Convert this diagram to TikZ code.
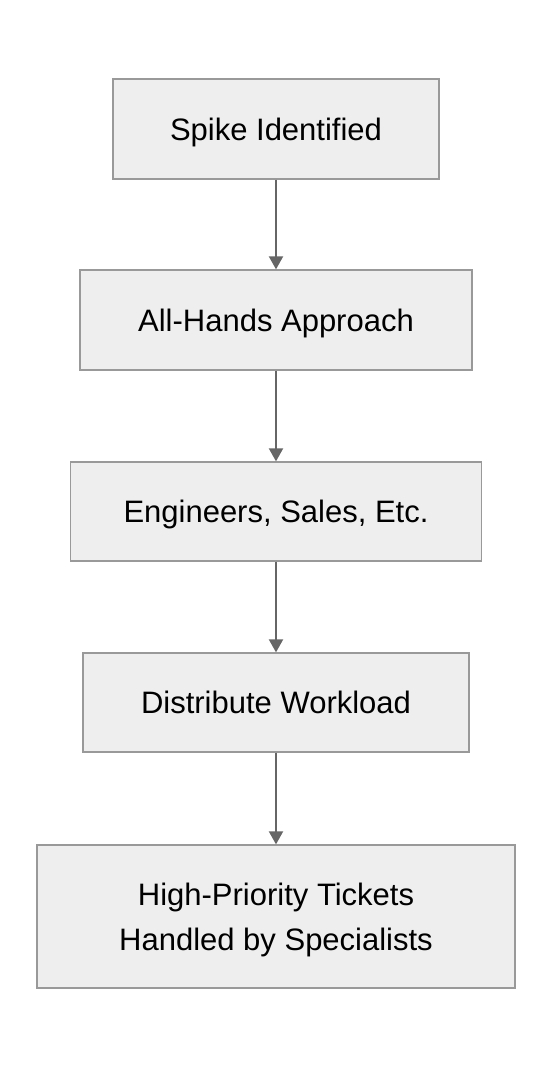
\documentclass[tikz,border=0pt]{standalone}
\usepackage{fontspec}
\setmainfont{Liberation Sans}
\usetikzlibrary{arrows.meta}
\definecolor{boxfill}{HTML}{EEEEEE}
\definecolor{boxline}{HTML}{999999}
\definecolor{arrowcol}{HTML}{666666}
\tikzset{
  stepbox/.style={draw=boxline, fill=boxfill, line width=1.3pt, inner sep=0pt,
    font=\fontsize{31}{45}\selectfont, align=center, text depth=0pt},
  flow/.style={draw=arrowcol, line width=2pt, -{Triangle[width=14pt,length=13pt]}}
}
\begin{document}
\begin{tikzpicture}[x=1pt,y=-1pt]
\useasboundingbox (0,0) rectangle (552,1068);
\node[stepbox, minimum width=326pt, minimum height=100pt] (a) at (276,129) {Spike Identified};
\node[stepbox, minimum width=392pt, minimum height=100pt] (b) at (276,320) {All-Hands Approach};
\node[stepbox, minimum width=411pt, minimum height=99pt] (c) at (276,511.5) {Engineers, Sales, Etc.};
\node[stepbox, minimum width=386pt, minimum height=99pt] (d) at (276,702.5) {Distribute Workload};
\node[stepbox, minimum width=478pt, minimum height=143pt] (e) at (276,916.5) {High-Priority Tickets\\Handled by Specialists};
\draw[flow] (a.south) -- (b.north);
\draw[flow] (b.south) -- (c.north);
\draw[flow] (c.south) -- (d.north);
\draw[flow] (d.south) -- (e.north);
\end{tikzpicture}
\end{document}
